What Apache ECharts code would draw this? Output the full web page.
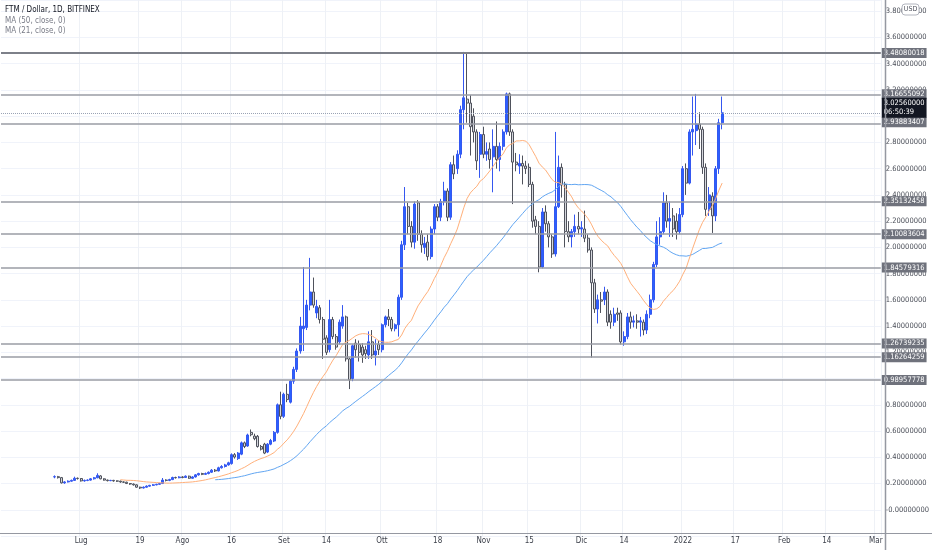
<!DOCTYPE html>
<html><head><meta charset="utf-8">
<script src="https://cdn.jsdelivr.net/npm/echarts@6/dist/echarts.min.js"></script>
<style>html,body{margin:0;padding:0;background:#fff}#c{width:932px;height:550px}</style>
</head><body><div id="c"></div><script>
const axisStart = '2021-06-07';
const axisDays = 269;
const firstCandle = '2021-06-23';
const opens = [
.250,.252,.245,.205,.212,.218,.224,.240,
.238,.220,.224,.226,.236,.244,.258,.236,.226,.222,
.224,.220,.218,.212,.210,.200,.196,.190,.172,.166,
.172,.180,.186,.190,.194,.200,.226,.224,.230,.246,
.244,.250,.246,.256,.240,.250,.266,.276,.270,.276,
.286,.302,.296,.320,.330,.342,.352,.420,.390,.424,
.510,.486,.590,.562,.560,.482,.500,.440,.500,.524,
.590,.800,.712,.880,.820,.980,1.070,1.210,1.380,1.390,
1.560,1.660,1.500,1.540,1.450,1.310,1.220,1.450,1.320,1.280,
1.400,1.470,1.150,1.000,1.270,1.260,1.240,1.220,1.180,1.280,
1.180,1.260,1.220,1.410,1.470,1.450,1.380,1.410,1.620,2.020,
2.310,2.160,2.040,2.340,2.100,2.000,2.040,1.930,2.140,2.310,
2.230,2.350,2.430,2.230,2.630,2.600,2.710,3.050,3.130,3.100,
3.000,2.880,2.710,2.860,2.710,2.750,2.690,2.770,2.670,2.770,
2.880,3.170,2.880,2.650,2.620,2.640,2.620,2.610,2.480,2.210,
2.160,1.850,2.270,2.180,2.080,1.950,2.310,2.610,2.480,2.120,
2.080,2.120,2.160,2.140,2.140,2.070,1.980,1.730,1.530,1.600,
1.600,1.660,1.490,1.430,1.500,1.500,1.280,1.320,1.470,1.430,
1.440,1.430,1.430,1.370,1.490,1.600,1.870,2.080,2.120,2.340,
2.200,2.240,2.200,2.120,2.250,2.600,2.490,2.880,2.890,2.940,
2.900,2.610,2.290,2.390,2.240,2.600,2.950];
const closes = [
.252,.245,.205,.212,.218,.224,.240,.238,
.220,.224,.226,.236,.244,.262,.236,.226,.222,.224,
.220,.218,.212,.210,.200,.196,.190,.172,.166,.172,
.180,.186,.190,.194,.200,.226,.224,.230,.246,.244,
.250,.246,.256,.240,.250,.266,.276,.270,.276,.286,
.302,.296,.320,.330,.342,.358,.420,.402,.432,.510,
.482,.570,.572,.542,.482,.462,.432,.500,.528,.590,
.800,.712,.880,.840,.980,1.070,1.210,1.400,1.400,1.560,
1.660,1.560,1.550,1.450,1.300,1.200,1.450,1.320,1.240,1.430,
1.470,1.150,0.990,1.250,1.220,1.200,1.180,1.190,1.280,1.180,
1.210,1.220,1.410,1.470,1.450,1.380,1.410,1.620,2.020,2.310,
2.160,2.040,2.330,2.100,2.020,2.030,1.930,2.140,2.310,2.230,
2.350,2.430,2.230,2.630,2.560,2.710,3.050,3.140,3.100,2.920,
2.880,2.660,2.860,2.710,2.730,2.670,2.770,2.670,2.770,2.880,
3.170,2.880,2.650,2.630,2.640,2.620,2.600,2.480,2.200,2.160,
1.850,2.270,2.180,2.080,1.950,2.310,2.610,2.480,2.120,2.080,
2.120,2.160,2.140,2.150,2.070,1.980,1.730,1.530,1.600,1.590,
1.660,1.430,1.430,1.490,1.490,1.280,1.320,1.470,1.430,1.440,
1.430,1.440,1.370,1.490,1.600,1.870,2.080,2.120,2.340,2.200,
2.220,2.140,2.120,2.250,2.600,2.490,2.880,2.900,2.940,2.900,
2.610,2.290,2.400,2.240,2.600,2.950,3.0256];
const lows = [
.240,.238,.200,.198,.208,.214,.220,.230,
.215,.214,.218,.222,.230,.240,.232,.222,.216,.218,
.214,.212,.206,.204,.196,.190,.184,.168,.158,.162,
.168,.176,.182,.186,.190,.196,.216,.218,.226,.238,
.240,.240,.242,.236,.236,.246,.260,.264,.266,.270,
.280,.288,.292,.314,.322,.336,.344,.390,.380,.416,
.470,.480,.560,.530,.474,.452,.424,.432,.492,.516,
.580,.690,.700,.820,.810,.960,1.050,1.190,1.210,1.370,
1.520,1.540,1.460,1.420,1.150,1.180,1.200,1.300,1.220,1.260,
1.380,1.130,0.920,0.980,1.160,1.130,1.120,1.150,1.150,1.150,
1.100,1.180,1.200,1.390,1.400,1.360,1.360,1.320,1.600,1.980,
2.100,2.000,1.990,2.050,1.960,1.950,1.900,1.910,2.100,2.200,
2.200,2.320,2.200,2.210,2.520,2.560,2.680,2.900,2.950,2.700,
2.800,2.590,2.530,2.680,2.660,2.600,2.420,2.600,2.580,2.740,
2.860,2.850,2.330,2.580,2.560,2.480,2.560,2.460,2.150,2.100,
1.810,1.840,2.120,2.000,1.920,1.930,2.300,2.380,2.000,2.040,
2.000,2.080,2.100,2.080,2.040,1.960,1.160,1.500,1.420,1.500,
1.560,1.400,1.380,1.400,1.440,1.260,1.250,1.300,1.380,1.390,
1.380,1.320,1.330,1.340,1.460,1.580,1.850,2.020,2.100,2.150,
2.080,2.080,2.060,2.100,2.230,2.400,2.480,2.700,2.780,2.750,
2.560,2.240,2.240,2.110,2.200,2.560,2.900];
const highs = [
.262,.258,.250,.218,.224,.230,.252,.246,
.242,.230,.232,.242,.250,.278,.264,.240,.230,.228,
.228,.224,.222,.216,.214,.204,.200,.194,.176,.178,
.186,.190,.196,.198,.206,.242,.232,.236,.252,.252,
.256,.256,.262,.260,.256,.272,.282,.282,.284,.292,
.310,.310,.328,.340,.350,.366,.430,.432,.440,.520,
.520,.580,.612,.580,.570,.494,.510,.508,.540,.600,
.810,.900,.892,.960,.990,1.090,1.230,1.470,1.850,1.600,
1.920,1.770,1.600,1.560,1.470,1.330,1.600,1.470,1.340,1.450,
1.560,1.480,1.160,1.260,1.300,1.290,1.270,1.250,1.360,1.370,
1.300,1.290,1.420,1.480,1.530,1.470,1.420,1.640,2.050,2.460,
2.340,2.200,2.350,2.360,2.130,2.080,2.100,2.160,2.330,2.330,
2.370,2.500,2.450,2.650,2.700,2.740,3.080,3.490,3.480,3.160,
3.060,2.900,2.880,2.920,2.800,2.800,2.900,2.960,2.800,2.900,
3.180,3.180,2.900,2.720,2.710,2.700,2.660,2.640,2.500,2.240,
2.200,2.300,2.320,2.200,2.100,2.880,2.700,2.640,2.500,2.200,
2.140,2.250,2.270,2.200,2.280,2.100,2.000,1.760,1.640,1.660,
1.700,1.680,1.520,1.540,1.540,1.520,1.360,1.500,1.510,1.480,
1.490,1.470,1.450,1.520,1.640,1.890,2.200,2.230,2.420,2.400,
2.350,2.300,2.260,2.300,2.620,2.640,2.900,3.150,3.170,3.030,
2.920,2.640,2.460,2.420,2.620,2.980,3.150];
const tickDates = ['2021-07-01','2021-07-19','2021-08-01','2021-08-16','2021-09-01','2021-09-14','2021-10-01','2021-10-18','2021-11-01','2021-11-15','2021-12-01','2021-12-14','2022-01-01','2022-01-17','2022-02-01','2022-02-14','2022-03-01'];
const tickLabels = ['Lug','19','Ago','16','Set','14','Ott','18','Nov','15','Dic','14','2022','17','Feb','14','Mar'];
const levelLines = [3.48080018, 3.16655092, 2.93883407, 2.35132458, 2.10083604, 1.84579316, 1.26739235, 1.16264259, 0.98957778];
const lastPrice = 3.02560000;
const countdown = '06:50:39';
const titleText = 'FTM / Dollar, 1D, BITFINEX';
const maLegend = ['MA (50, close, 0)', 'MA (21, close, 0)'];
const yMin = -0.2, yMax = 3.8857, yStep = 0.2;

const DAY = 86400000;
const t0 = Date.parse(axisStart + 'T00:00:00Z');
const categories = [];
for (let i = 0; i < axisDays; i++) categories.push(new Date(t0 + i * DAY).toISOString().slice(0, 10));
const offset = categories.indexOf(firstCandle);
const tickMap = new Map(tickDates.map((d, i) => [d, tickLabels[i]]));

const candles = opens.map((o, k) => [offset + k, o, closes[k], lows[k], highs[k]]);
function sma(n) {
  const out = [];
  for (let k = n - 1; k < closes.length; k++) {
    let s = 0;
    for (let j = k - n + 1; j <= k; j++) s += closes[j];
    out.push([offset + k, s / n]);
  }
  return out;
}
const FONT = "'Liberation Sans Narrow','DejaVu Sans Condensed','Liberation Sans',sans-serif";

const labelBase = {show: true, position: 'end', distance: 1, color: '#ffffff', backgroundColor: '#6f727c',
  padding: [1, 2, 0, 2], fontSize: 7.5, fontFamily: FONT, lineHeight: 9};
const markData = levelLines.map(v => ({
  yAxis: v,
  lineStyle: {color: v === levelLines[0] ? '#7d8089' : '#9a9ca4', width: v === levelLines[0] ? 2 : 1.5, type: 'solid'},
  label: Object.assign({}, labelBase, {formatter: v.toFixed(8)}, v === levelLines[2] ? {offset: [0, -2]} : {})
}));
markData.push({
  yAxis: lastPrice,
  lineStyle: {color: '#9aa3b5', width: 1, type: 'dotted'},
  label: Object.assign({}, labelBase, {formatter: lastPrice.toFixed(8) + '\n' + countdown, backgroundColor: '#131722',
    padding: [1, 2, 1, 2], offset: [0, -5]})
});

const chart = echarts.init(document.getElementById('c'), null, {renderer: 'canvas'});
chart.setOption({
  animation: false,
  backgroundColor: '#ffffff',
  textStyle: {fontFamily: FONT},
  grid: {left: 1, right: 45, top: 0, bottom: 14, containLabel: false},
  xAxis: {
    type: 'category', data: categories, boundaryGap: true,
    axisLine: {show: false}, axisTick: {show: false},
    axisLabel: {interval: (i, v) => tickMap.has(v), formatter: v => tickMap.get(v) || '', margin: 1,
      color: '#3e424c', fontSize: 8, fontFamily: FONT},
    splitLine: {show: true, interval: (i, v) => tickMap.has(v), lineStyle: {color: '#eef1f6', width: 1}}
  },
  yAxis: {
    type: 'value', position: 'right', min: yMin, max: yMax, interval: yStep, scale: false,
    axisLine: {show: false}, axisTick: {show: false},
    axisLabel: {margin: 5, color: '#4a4e58', fontSize: 7.5, fontFamily: FONT, showMinLabel: false, showMaxLabel: false,
      formatter: v => Math.abs(v) < 1e-9 ? '-0.00000000' : v.toFixed(8)},
    splitLine: {lineStyle: {color: '#f0f3fa', width: 1}}
  },
  series: [
    {
      type: 'candlestick', name: 'FTM', data: candles, encode: {x: 0, y: [1, 2, 3, 4]},
      barWidth: 2.5,
      itemStyle: {color: '#2962ff', color0: '#d6d8de', borderColor: '#3557f0', borderColor0: '#4f525c', borderWidth: 1},
      markLine: {symbol: ['none', 'none'], silent: true, animation: false, precision: 8, data: markData}
    },
    {type: 'line', name: maLegend[0], data: sma(50), showSymbol: false, symbol: 'none', z: 3,
      lineStyle: {color: '#62a6f2', width: 1}},
    {type: 'line', name: maLegend[1], data: sma(21), showSymbol: false, symbol: 'none', z: 3,
      lineStyle: {color: '#ffb07a', width: 1}}
  ],
  graphic: [
    {type: 'line', z: 100, shape: {x1: 0, y1: 533.5, x2: 932, y2: 533.5}, style: {stroke: '#9598a1', lineWidth: 1}},
    {type: 'line', z: 100, shape: {x1: 885.5, y1: 0, x2: 885.5, y2: 550}, style: {stroke: '#9598a1', lineWidth: 1.5}},
    {type: 'rect', z: 101, shape: {x: 902, y: 4, width: 17, height: 11, r: 3}, style: {fill: '#ffffff', stroke: '#b2b5be', lineWidth: 1}},
    {type: 'text', z: 102, style: {text: 'USD', x: 910.5, y: 9.5, align: 'center', verticalAlign: 'middle', fontSize: 7, fontFamily: FONT, fill: '#50535e'}},
    {type: 'text', z: 102, style: {text: titleText, x: 5, y: 10, verticalAlign: 'middle', fontSize: 8, fontFamily: FONT, fill: '#131722'}},
    {type: 'text', z: 102, style: {text: maLegend[0], x: 5, y: 21, verticalAlign: 'middle', fontSize: 8, fontFamily: FONT, fill: '#787b86'}},
    {type: 'text', z: 102, style: {text: maLegend[1], x: 5, y: 31, verticalAlign: 'middle', fontSize: 8, fontFamily: FONT, fill: '#787b86'}}
  ]
});
</script></body></html>
